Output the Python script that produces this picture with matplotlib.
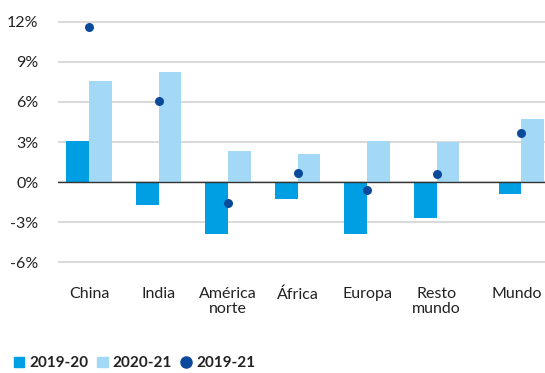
import matplotlib
matplotlib.use("Agg")
import matplotlib.pyplot as plt
import matplotlib.transforms as mtransforms
from matplotlib.lines import Line2D
from matplotlib.patches import Patch
import numpy as np

plt.rcParams['font.family'] = ['Lato', 'DejaVu Sans']

regions = ["China", "India", "América\nnorte", "África", "Europa", "Resto\nmundo", "Mundo"]
growth_19_20 = [3.1, -1.7, -3.9, -1.3, -3.9, -2.7, -0.9]
growth_20_21 = [7.6, 8.2, 2.3, 2.1, 3.1, 3.0, 4.7]
growth_19_21 = [11.6, 6.1, -1.6, 0.7, -0.6, 0.6, 3.7]
yticks = [-6, -3, 0, 3, 6, 9, 12]
series_names = ["2019-20", "2020-21", "2019-21"]

c_dark = "#009fe3"
c_light = "#a3d9f6"
c_dot = "#0b4a9a"

# the world total sits a little apart from the regions
x = np.append(np.arange(6), 6.22)
w = 0.325

fig = plt.figure(figsize=(5.45, 3.73), dpi=100)
ax = fig.add_axes([0.1064, 0.2788, 0.8936, 0.681])

ax.bar(x - w / 2, growth_19_20, width=w, color=c_dark, zorder=2)
ax.bar(x + w / 2, growth_20_21, width=w, color=c_light, zorder=2)
ax.scatter(x, growth_19_21, s=42, color=c_dot, zorder=4, linewidths=0)

ax.set_ylim(-6.5, 12.5)
ax.set_xlim(-0.446, 6.56)
ax.set_yticks(yticks)
ax.set_yticklabels([f"{v}%" for v in yticks], fontsize=11.5, color="#222222")
ax.set_xticks(x)
ax.set_xticklabels(regions, fontsize=11.5, color="#222222", linespacing=1.05)
ax.tick_params(axis="both", length=0)
ax.tick_params(axis="x", pad=13)
ax.tick_params(axis="y", pad=14)

# nudge the last label left so it stays inside the figure
last = ax.get_xticklabels()[-1]
last.set_transform(last.get_transform()
                   + mtransforms.ScaledTranslation(-5 / 100, 0, fig.dpi_scale_trans))

for s in ax.spines.values():
    s.set_visible(False)
ax.grid(axis="y", color="#d9d9d9", linewidth=1.4, zorder=0)
ax.axhline(0, color="#333333", linewidth=1.0, zorder=3)

handles = [
    Patch(color=c_dark, label=series_names[0]),
    Patch(color=c_light, label=series_names[1]),
    Line2D([], [], marker="o", linestyle="", markersize=8, color=c_dot, label=series_names[2]),
]
fig.legend(handles=handles, loc="center left", bbox_to_anchor=(0.0, 0.026), ncol=3,
           frameon=False, handlelength=0.7, handleheight=0.7, handletextpad=0.3,
           columnspacing=0.6, prop={"size": 11, "weight": "bold"}, labelcolor="#222222")

fig.savefig("out.png", dpi=100)
